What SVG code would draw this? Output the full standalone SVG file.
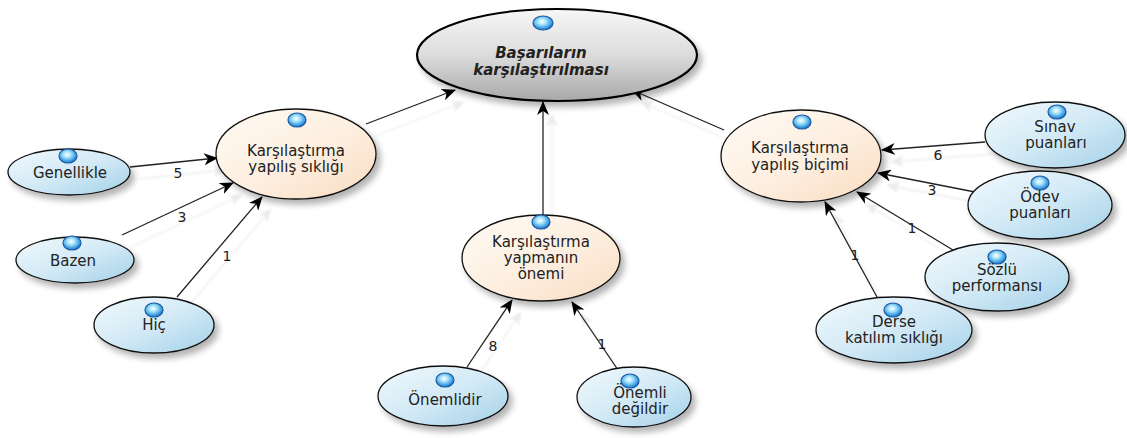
<svg xmlns="http://www.w3.org/2000/svg" width="1127" height="438" viewBox="0 0 1127 438">
<defs>
<linearGradient id="gBlue" x1="0" y1="0" x2="1" y2="1">
<stop offset="0" stop-color="#f2f9fd"/><stop offset="0.5" stop-color="#d3eaf6"/><stop offset="1" stop-color="#a3d0e8"/>
</linearGradient>
<linearGradient id="gOrange" x1="0" y1="0" x2="1" y2="1">
<stop offset="0" stop-color="#fffaf4"/><stop offset="0.55" stop-color="#fdeedf"/><stop offset="1" stop-color="#f9dcc0"/>
</linearGradient>
<linearGradient id="gGray" x1="0" y1="0" x2="0" y2="1">
<stop offset="0" stop-color="#f7f7f7"/><stop offset="0.5" stop-color="#dcdcdc"/><stop offset="1" stop-color="#a8a8a8"/>
</linearGradient>
<radialGradient id="gBall" cx="0.45" cy="0.4" r="0.6">
<stop offset="0" stop-color="#ffffff"/><stop offset="0.35" stop-color="#a8e4fa"/><stop offset="0.8" stop-color="#3a9be0"/><stop offset="1" stop-color="#1e6bbd"/>
</radialGradient>
<filter id="shadow" x="-20%" y="-20%" width="150%" height="160%">
<feGaussianBlur in="SourceAlpha" stdDeviation="3"/>
<feOffset dx="4" dy="5" result="b"/>
<feComponentTransfer><feFuncA type="linear" slope="0.3"/></feComponentTransfer>
<feMerge><feMergeNode/><feMergeNode in="SourceGraphic"/></feMerge>
</filter>
<filter id="lshadow" x="-20%" y="-20%" width="150%" height="150%">
<feGaussianBlur in="SourceAlpha" stdDeviation="1.2"/>
<feOffset dx="9" dy="12"/>
<feComponentTransfer><feFuncA type="linear" slope="0.08"/></feComponentTransfer>
<feMerge><feMergeNode/><feMergeNode in="SourceGraphic"/></feMerge>
</filter>
<marker id="arr" viewBox="0 0 14 12" refX="13" refY="6" markerWidth="14" markerHeight="12" markerUnits="userSpaceOnUse" orient="auto">
<path d="M0,0 L14,6 L0,12 L4,6 z" fill="#000"/>
</marker>
<style>
.blue{fill:url(#gBlue);stroke:#111;stroke-width:1.3;filter:url(#shadow)}
.orange{fill:url(#gOrange);stroke:#111;stroke-width:1.3;filter:url(#shadow)}
.gray{fill:url(#gGray);stroke:#000;stroke-width:2.2;filter:url(#shadow)}
.ball{fill:url(#gBall);stroke:#1a5aa6;stroke-width:1.2}
.t{font-family:"DejaVu Sans","Liberation Sans",sans-serif;font-size:15px;fill:#222;text-anchor:middle}
.tt{font-family:"DejaVu Sans","Liberation Sans",sans-serif;font-size:15px;font-weight:bold;font-style:italic;fill:#222;text-anchor:middle}
.lbl{font-family:"DejaVu Sans","Liberation Sans",sans-serif;font-size:14px;fill:#222;text-anchor:middle}
.c{stroke:#222;stroke-width:1.3;fill:none;marker-end:url(#arr)}
</style>
</defs>
<rect width="1127" height="438" fill="#fff"/>
<g id="connectors">
<g filter="url(#lshadow)">
<line class="c" x1="366" y1="124" x2="455" y2="90"/>
<line class="c" x1="543" y1="215" x2="543" y2="102"/>
<line class="c" x1="724" y1="130" x2="632" y2="90"/>
<line class="c" x1="130" y1="167" x2="217" y2="158"/>
<line class="c" x1="122" y1="235" x2="233" y2="183"/>
<line class="c" x1="177" y1="297" x2="262" y2="197"/>
<line class="c" x1="467" y1="367" x2="512" y2="300"/>
<line class="c" x1="618" y1="370" x2="572" y2="302"/>
<line class="c" x1="985" y1="142" x2="882" y2="150"/>
<line class="c" x1="975" y1="192" x2="878" y2="173"/>
<line class="c" x1="953" y1="250" x2="857" y2="192"/>
<line class="c" x1="877" y1="297" x2="825" y2="202"/>
</g>
<text class="lbl" x="178" y="178">5</text>
<text class="lbl" x="182" y="222">3</text>
<text class="lbl" x="227" y="261">1</text>
<text class="lbl" x="493" y="351">8</text>
<text class="lbl" x="602" y="349">1</text>
<text class="lbl" x="938" y="160">6</text>
<text class="lbl" x="932" y="195">3</text>
<text class="lbl" x="912" y="233">1</text>
<text class="lbl" x="855" y="260">1</text>
</g>
<g id="n-top">
<ellipse class="gray" cx="557" cy="55" rx="140" ry="46"/>
<ellipse class="ball" cx="543" cy="23" rx="10" ry="7"/>
<text class="tt" x="541" y="58">Başarıların</text>
<text class="tt" x="541" y="75">karşılaştırılması</text>
</g>
<g id="n-siklik">
<ellipse class="orange" cx="296" cy="154" rx="80" ry="45"/>
<ellipse class="ball" cx="297" cy="120" rx="9" ry="7"/>
<text class="t" x="296" y="156">Karşılaştırma</text>
<text class="t" x="296" y="172">yapılış sıklığı</text>
</g>
<g id="n-genellikle">
<ellipse class="blue" cx="69" cy="172" rx="61" ry="23"/>
<ellipse class="ball" cx="68" cy="156" rx="9" ry="7"/>
<text class="t" x="70" y="178">Genellikle</text>
</g>
<g id="n-bazen">
<ellipse class="blue" cx="75" cy="260" rx="59" ry="23"/>
<ellipse class="ball" cx="72" cy="243" rx="9" ry="7"/>
<text class="t" x="73" y="266">Bazen</text>
</g>
<g id="n-hic">
<ellipse class="blue" cx="154" cy="325" rx="60" ry="28"/>
<ellipse class="ball" cx="154" cy="310" rx="9" ry="7"/>
<text class="t" x="154" y="330">Hiç</text>
</g>
<g id="n-onem">
<ellipse class="orange" cx="541" cy="258" rx="79" ry="43"/>
<ellipse class="ball" cx="541" cy="222" rx="9" ry="7"/>
<text class="t" x="541" y="247">Karşılaştırma</text>
<text class="t" x="541" y="263">yapmanın</text>
<text class="t" x="541" y="279">önemi</text>
</g>
<g id="n-onemlidir">
<ellipse class="blue" cx="443" cy="396" rx="65" ry="30"/>
<ellipse class="ball" cx="445" cy="380" rx="9" ry="7"/>
<text class="t" x="445" y="405">Önemlidir</text>
</g>
<g id="n-onemlidegil">
<ellipse class="blue" cx="634" cy="397" rx="57" ry="30"/>
<ellipse class="ball" cx="630" cy="381" rx="9" ry="7"/>
<text class="t" x="640" y="398">Önemli</text>
<text class="t" x="640" y="414">değildir</text>
</g>
<g id="n-bicim">
<ellipse class="orange" cx="801" cy="156" rx="80" ry="46"/>
<ellipse class="ball" cx="802" cy="122" rx="9" ry="7"/>
<text class="t" x="800" y="153">Karşılaştırma</text>
<text class="t" x="800" y="170">yapılış biçimi</text>
</g>
<g id="n-sinav">
<ellipse class="blue" cx="1055" cy="135" rx="70" ry="33"/>
<ellipse class="ball" cx="1057" cy="112" rx="9" ry="7"/>
<text class="t" x="1055" y="132">Sınav</text>
<text class="t" x="1056" y="148">puanları</text>
</g>
<g id="n-odev">
<ellipse class="blue" cx="1040" cy="205" rx="72" ry="34"/>
<ellipse class="ball" cx="1040" cy="183" rx="9" ry="7"/>
<text class="t" x="1040" y="202">Ödev</text>
<text class="t" x="1040" y="218">puanları</text>
</g>
<g id="n-sozlu">
<ellipse class="blue" cx="997" cy="277" rx="72" ry="34"/>
<ellipse class="ball" cx="997" cy="257" rx="9" ry="7"/>
<text class="t" x="997" y="275">Sözlü</text>
<text class="t" x="997" y="291">performansı</text>
</g>
<g id="n-derse">
<ellipse class="blue" cx="894" cy="330" rx="78" ry="33"/>
<ellipse class="ball" cx="893" cy="310" rx="9" ry="7"/>
<text class="t" x="894" y="327">Derse</text>
<text class="t" x="894" y="343">katılım sıklığı</text>
</g>
</svg>
